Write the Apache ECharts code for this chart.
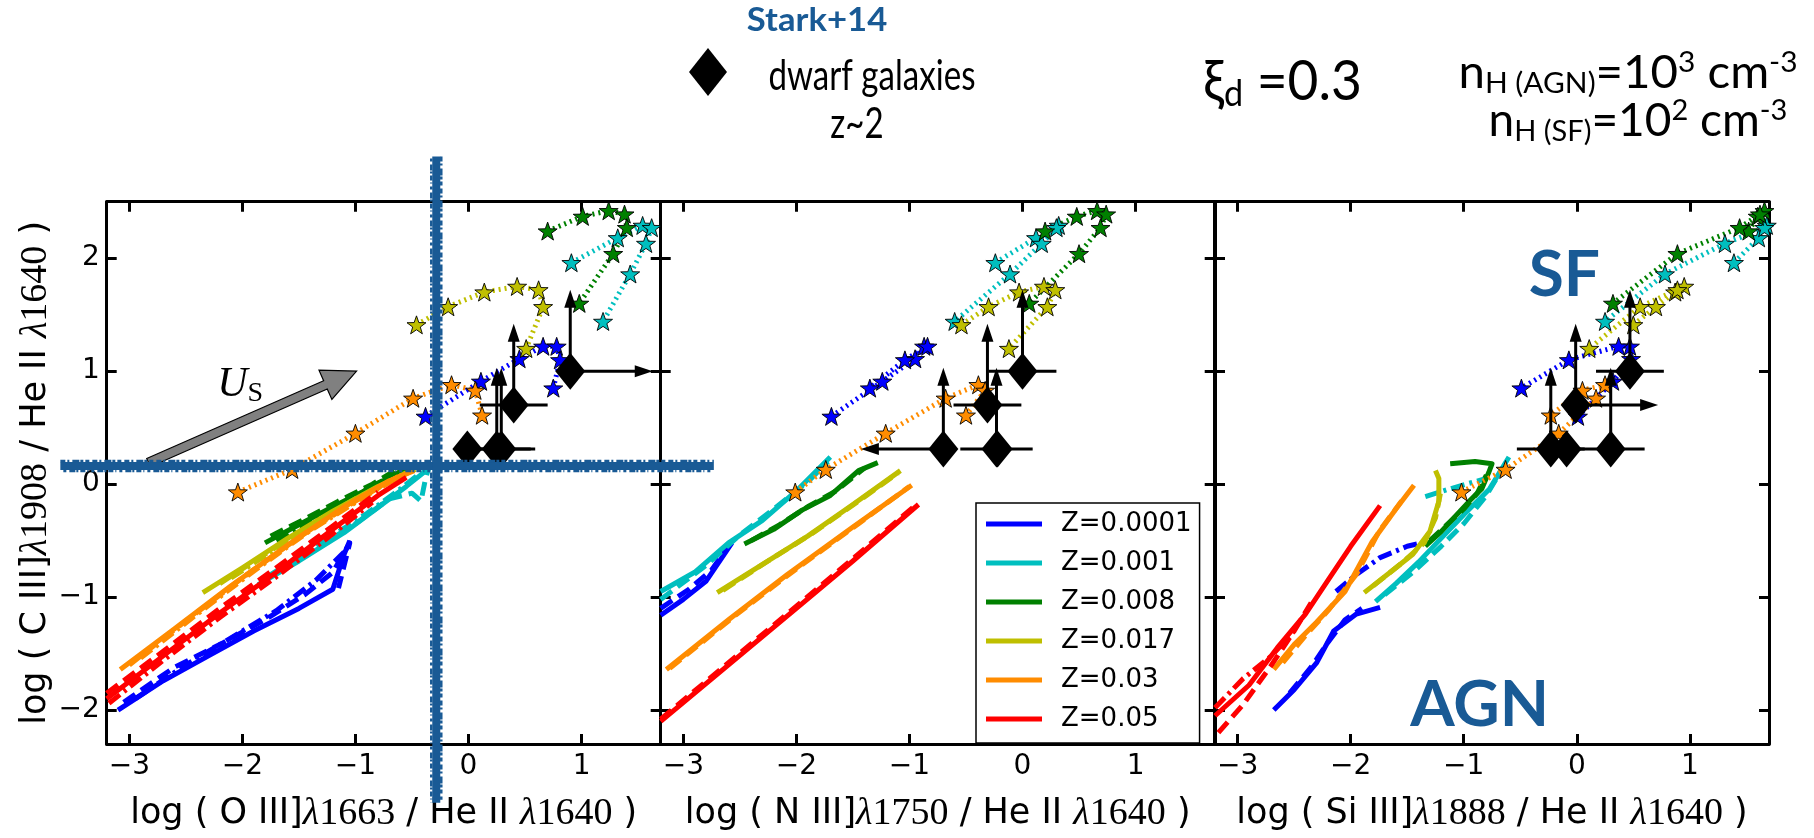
<!DOCTYPE html>
<html>
<head>
<meta charset="utf-8">
<script src="https://cdn.jsdelivr.net/npm/echarts@6/dist/echarts.min.js"></script>
<style>
  html, body { margin: 0; padding: 0; background: #ffffff; }
  #chart { width: 1814px; height: 838px; }
</style>
</head>
<body>
<div id="chart"></div>
<script>
// ---------------------------------------------------------------------------
// Data
// ---------------------------------------------------------------------------
const zLabels = ['Z=0.0001', 'Z=0.001', 'Z=0.008', 'Z=0.017', 'Z=0.03', 'Z=0.05'];
const zColors = ['#0000ff', '#00bfbf', '#008000', '#bfbf00', '#ff8c00', '#ff0000'];

const xTicks = [-3, -2, -1, 0, 1];
const yTicks = [-2, -1, 0, 1, 2];
const xRange = [-3.2, 1.7];
const yRange = [-2.3, 2.5];

// numerator ion and wavelength of each panel's x ratio
const panelIons = ['O III]', 'N III]', 'Si III]'];
const panelWaves = ['1663', '1750', '1888'];

// Star-forming grid, log C III]/He II (shared by all panels), one row per metallicity
const sfY = [
  [0.60, 0.91, 1.11, 1.22, 1.22, 1.10, 0.85],
  [1.96, 2.18, 2.29, 2.27, 2.13, 1.86, 1.44],
  [2.24, 2.37, 2.42, 2.39, 2.27, 2.04, 1.60],
  [1.41, 1.57, 1.70, 1.75, 1.72, 1.57, 1.20],
  [-0.07, 0.13, 0.45, 0.76, 0.88, 0.83, 0.61]
];
// Star-forming grid x values: O III]/He II
const sfO3X = [
  [-0.38, 0.11, 0.45, 0.66, 0.78, 0.81, 0.75],
  [0.91, 1.32, 1.54, 1.62, 1.57, 1.43, 1.19],
  [0.70, 1.01, 1.24, 1.38, 1.40, 1.28, 0.98],
  [-0.46, -0.18, 0.14, 0.43, 0.62, 0.66, 0.51],
  [-2.04, -1.56, -1.00, -0.49, -0.15, 0.06, 0.12]
];
// Star-forming grid x values: N III]/He II
const sfN3X = [
  [-1.69, -1.24, -0.95, -0.87, -0.84, -1.04, -1.35],
  [-0.24, 0.12, 0.32, 0.30, 0.17, -0.11, -0.60],
  [0.20, 0.48, 0.66, 0.74, 0.69, 0.50, 0.06],
  [-0.54, -0.30, -0.03, 0.19, 0.29, 0.22, -0.12],
  [-2.01, -1.74, -1.21, -0.68, -0.39, -0.33, -0.50]
];
// Star-forming grid x values: Si III]/He II
const sfSi3X = [
  [0.01, 0.32, 0.48, 0.47, 0.37, -0.07, -0.49],
  [1.39, 1.61, 1.68, 1.66, 1.31, 0.78, 0.25],
  [1.52, 1.60, 1.66, 1.62, 1.44, 0.89, 0.32],
  [0.50, 0.70, 0.87, 0.95, 0.89, 0.56, 0.11],
  [-1.02, -0.63, -0.16, 0.17, 0.25, 0.05, -0.23]
];

// AGN narrow-line models, per metallicity: [solid, dashed, dash-dot] tracks of [x, y]
const agnO3 = [
  [[[-3.10, -2.00], [-2.70, -1.74], [-2.30, -1.52], [-1.90, -1.30], [-1.50, -1.10], [-1.20, -0.93], [-1.10, -0.62], [-1.05, -0.50]],
   [[-3.05, -1.93], [-2.60, -1.62], [-2.20, -1.42], [-1.80, -1.20], [-1.45, -0.98], [-1.20, -0.78], [-1.05, -0.52], [-1.15, -0.92]],
   [[-2.95, -1.90], [-2.50, -1.60], [-2.10, -1.36], [-1.70, -1.12], [-1.35, -0.85], [-1.10, -0.60]]],
  [[[-1.86, -0.89], [-1.50, -0.68], [-1.10, -0.43], [-0.75, -0.17], [-0.55, -0.02], [-0.40, 0.10], [-0.35, 0.20]],
   [[-1.80, -0.84], [-1.40, -0.60], [-1.00, -0.35], [-0.70, -0.13], [-0.50, -0.08], [-0.42, -0.15], [-0.38, 0.05], [-0.34, 0.18]],
   [[-1.75, -0.80], [-1.30, -0.52], [-0.90, -0.26], [-0.60, -0.04], [-0.45, 0.08]]],
  [[[-1.80, -0.52], [-1.50, -0.36], [-1.20, -0.20], [-0.90, -0.05], [-0.55, 0.14]],
   [[-1.75, -0.46], [-1.45, -0.31], [-1.15, -0.15], [-0.85, 0.00], [-0.60, 0.15]],
   [[-1.70, -0.50], [-1.40, -0.33], [-1.10, -0.16], [-0.80, 0.01], [-0.58, 0.12]]],
  [[[-2.35, -0.96], [-2.00, -0.74], [-1.60, -0.48], [-1.20, -0.24], [-0.80, -0.02], [-0.47, 0.13]],
   [[-2.20, -0.88], [-1.80, -0.62], [-1.40, -0.37], [-1.00, -0.13], [-0.55, 0.10]],
   [[-2.10, -0.83], [-1.70, -0.57], [-1.30, -0.32], [-0.90, -0.08], [-0.50, 0.12]]],
  [[[-3.08, -1.64], [-2.60, -1.28], [-2.10, -0.90], [-1.60, -0.54], [-1.10, -0.20], [-0.70, 0.03], [-0.48, 0.12]],
   [[-3.00, -1.60], [-2.50, -1.21], [-2.00, -0.83], [-1.50, -0.47], [-1.00, -0.15], [-0.60, 0.08]],
   [[-2.90, -1.54], [-2.40, -1.15], [-1.90, -0.77], [-1.40, -0.41], [-0.90, -0.10], [-0.55, 0.10]]],
  [[[-3.20, -1.90], [-2.70, -1.52], [-2.20, -1.14], [-1.70, -0.78], [-1.20, -0.40], [-0.80, -0.10], [-0.55, 0.06]],
   [[-3.20, -1.85], [-2.70, -1.48], [-2.20, -1.10], [-1.70, -0.74], [-1.20, -0.37], [-0.80, -0.07]],
   [[-3.18, -1.94], [-2.70, -1.56], [-2.20, -1.18], [-1.70, -0.82], [-1.20, -0.44], [-0.85, -0.16]]]
];
const agnN3 = [
  [[[-3.20, -1.16], [-3.00, -1.02], [-2.80, -0.86], [-2.57, -0.52]],
   [[-3.20, -1.10], [-2.95, -0.93], [-2.75, -0.76], [-2.60, -0.55]]],
  [[[-3.20, -0.95], [-2.90, -0.78], [-2.60, -0.52], [-2.30, -0.32], [-2.00, -0.06], [-1.70, 0.24]],
   [[-3.20, -1.02], [-2.80, -0.72], [-2.50, -0.45], [-2.20, -0.22], [-1.90, 0.02], [-1.72, 0.20]]],
  [[[-2.46, -0.53], [-2.20, -0.40], [-1.95, -0.23], [-1.70, -0.10], [-1.45, 0.12], [-1.28, 0.19]],
   [[-2.40, -0.50], [-2.15, -0.36], [-1.90, -0.20], [-1.65, -0.06], [-1.40, 0.14]]],
  [[[-2.70, -0.96], [-2.30, -0.71], [-1.90, -0.46], [-1.50, -0.18], [-1.08, 0.12]],
   [[-2.65, -0.94], [-2.25, -0.68], [-1.85, -0.43], [-1.45, -0.15], [-1.10, 0.10]]],
  [[[-3.15, -1.64], [-2.60, -1.20], [-2.08, -0.80], [-1.50, -0.38], [-0.98, -0.01]],
   [[-3.12, -1.63], [-2.55, -1.17], [-2.00, -0.75], [-1.45, -0.35], [-1.00, -0.02]]],
  [[[-3.20, -2.10], [-2.60, -1.60], [-2.00, -1.10], [-1.50, -0.68], [-0.92, -0.18]],
   [[-3.20, -2.08], [-2.60, -1.58], [-2.00, -1.08], [-1.50, -0.66], [-0.95, -0.19]]]
];
const agnSi3 = [
  [[[-2.68, -2.00], [-2.50, -1.82], [-2.30, -1.58], [-2.15, -1.30], [-1.95, -1.15], [-1.74, -1.09]],
   [[-2.54, -1.85], [-2.35, -1.62], [-2.20, -1.40], [-2.05, -1.20], [-1.90, -1.10]],
   [[-2.13, -0.95], [-1.95, -0.80], [-1.74, -0.65], [-1.50, -0.55], [-1.33, -0.51]]],
  [[[-1.78, -1.04], [-1.60, -0.88], [-1.40, -0.69], [-1.20, -0.48], [-1.00, -0.27], [-0.77, -0.04], [-0.60, 0.24]],
   [[-1.70, -0.98], [-1.45, -0.78], [-1.20, -0.55], [-1.00, -0.35], [-0.80, -0.10], [-0.68, 0.10]],
   [[-1.34, -0.11], [-1.15, -0.05], [-0.98, 0.00], [-0.80, 0.05]]],
  [[[-1.34, -0.55], [-1.20, -0.42], [-1.08, -0.29], [-0.95, -0.15], [-0.84, -0.04], [-0.78, 0.10], [-0.75, 0.18], [-0.90, 0.20], [-1.12, 0.18]],
   [[-1.30, -0.50], [-1.15, -0.36], [-1.00, -0.22], [-0.88, -0.08], [-0.80, 0.08]]],
  [[[-1.88, -0.96], [-1.65, -0.78], [-1.45, -0.62], [-1.30, -0.42], [-1.22, -0.15], [-1.22, 0.05], [-1.25, 0.12]],
   [[-1.80, -0.90], [-1.55, -0.70], [-1.35, -0.52], [-1.25, -0.30], [-1.20, -0.05]]],
  [[[-2.68, -1.64], [-2.50, -1.42], [-2.30, -1.22], [-2.05, -0.95], [-1.81, -0.51], [-1.60, -0.22], [-1.44, -0.01]],
   [[-2.60, -1.58], [-2.40, -1.34], [-2.20, -1.12], [-1.95, -0.80], [-1.75, -0.42], [-1.55, -0.15]]],
  [[[-3.20, -2.05], [-2.90, -1.78], [-2.65, -1.45], [-2.40, -1.15], [-2.20, -0.85], [-2.00, -0.55], [-1.74, -0.19]],
   [[-3.17, -2.20], [-2.95, -1.95], [-2.70, -1.60], [-2.50, -1.30], [-2.35, -1.05]],
   [[-3.20, -1.98], [-2.95, -1.72], [-2.70, -1.52], [-2.50, -1.30]]]
];

// Stark+14 dwarf galaxies at z~2: log C III]/He II and lower-limit flag
const galY = [1.00, 0.70, 0.31, 0.31, 0.31];
const galYLower = [1, 1, 0, 1, 1];
// per panel: x value, symmetric x error, x limit (+1 lower limit, -1 upper limit)
const galO3X = [0.90, 0.40, -0.01, 0.25, 0.29];
const galO3Err = [0, 0.30, 0, 0.30, 0.30];
const galO3Lim = [1, 0, 0, 0, 0];
const galN3X = [0.00, -0.31, -0.22, -0.70, -0.23];
const galN3Err = [0.30, 0.30, 0, 0, 0.32];
const galN3Lim = [0, 0, 0, -1, 0];
const galSi3X = [0.47, -0.01, -0.09, -0.23, 0.30];
const galSi3Err = [0.30, 0, 0, 0.30, 0.30];
const galSi3Lim = [0, 1, 0, 0, 0];

// Annotations in panel 1: ionization-parameter arrow and the dividing cross
const usArrow = [-2.83, 0.19, -0.99, 1.00];
const usLabel = [-2.02, 0.88];
const crossAt = [-0.285, 0.16];
const crossSpanX = [-3.61, 2.17];
const crossSpanY = [-2.82, 2.90];
// Region labels in panel 3
const regionLabels = [[-0.11, 1.85, 'SF'], [-0.86, -1.96, 'AGN']];

// ---------------------------------------------------------------------------
// Layout and styles
// ---------------------------------------------------------------------------
const gridLeft = [106.7, 660.7, 1215];
const GRID_TOP = 201.7;
const GRID_SIZE = 554;
const ARROW_LEN_Y = 0.64;
const ARROW_LEN_X = 0.65;
const agnDash = ['solid', [14, 7], [14, 5, 3, 5]];
const NAVY = '#195a95';
const STAR_PATH = 'path://M0,-10L2.35,-3.24L9.51,-3.09L3.8,1.24L5.88,8.09L0,4L-5.88,8.09L-3.8,1.24L-9.51,-3.09L-2.35,-3.24Z';

const sfX = [sfO3X, sfN3X, sfSi3X];
const agn = [agnO3, agnN3, agnSi3];
const galX = [galO3X, galN3X, galSi3X];
const galErr = [galO3Err, galN3Err, galSi3Err];
const galLim = [galO3Lim, galN3Lim, galSi3Lim];

const minus = v => (v < 0 ? '\u2212' + Math.abs(v) : String(v));

const axisRich = {
  t: { fontFamily: 'DejaVu Sans', fontSize: 35, color: '#000' },
  l: { fontFamily: 'Liberation Serif', fontStyle: 'italic', fontSize: 38, color: '#000' },
  n: { fontFamily: 'Liberation Serif', fontSize: 38, color: '#000' }
};
function ratioName(ion, wave) {
  return '{t|log ( ' + ion + '}{l|\u03bb}{n|' + wave + '}{t| / He II }{l|\u03bb}{n|1640}{t| )}';
}

const lineAxis = { show: true, onZero: false, lineStyle: { color: '#000', width: 3 } };
function tickStyle(values) {
  return { show: true, inside: true, length: 10, lineStyle: { color: '#000', width: 3 }, customValues: values };
}

const grids = [], xAxes = [], yAxes = [];
for (let p = 0; p < 3; p++) {
  grids.push({ left: gridLeft[p], top: GRID_TOP, width: GRID_SIZE, height: GRID_SIZE });
  xAxes.push({
    type: 'value', gridIndex: p, position: 'bottom', min: xRange[0], max: xRange[1],
    splitLine: { show: false }, axisLine: lineAxis, axisTick: tickStyle(xTicks),
    axisLabel: { show: true, customValues: xTicks, formatter: minus, margin: 9,
                 fontFamily: 'DejaVu Sans', fontSize: 28, color: '#000' },
    name: ratioName(panelIons[p], panelWaves[p]), nameLocation: 'middle', nameGap: 51,
    nameTextStyle: { rich: axisRich, lineHeight: 38 }
  });
  yAxes.push({
    type: 'value', gridIndex: p, position: 'left', min: yRange[0], max: yRange[1],
    splitLine: { show: false }, axisLine: lineAxis, axisTick: tickStyle(yTicks),
    axisLabel: { show: p === 0, customValues: yTicks, formatter: minus, margin: 7,
                 fontFamily: 'DejaVu Sans', fontSize: 28, color: '#000' },
    name: p === 0 ? ratioName('C III]', '1908') : '',
    nameLocation: 'middle', nameRotate: 90, nameGap: 51,
    nameTextStyle: { rich: axisRich, lineHeight: 38 }
  });
}
for (let p = 0; p < 3; p++) {
  xAxes.push({
    type: 'value', gridIndex: p, position: 'top', min: xRange[0], max: xRange[1],
    splitLine: { show: false }, axisLine: lineAxis, axisTick: tickStyle(xTicks),
    axisLabel: { show: false, customValues: xTicks }
  });
  yAxes.push({
    type: 'value', gridIndex: p, position: 'right', min: yRange[0], max: yRange[1],
    splitLine: { show: false }, axisLine: lineAxis, axisTick: tickStyle(yTicks),
    axisLabel: { show: false, customValues: yTicks }
  });
}

// ---------------------------------------------------------------------------
// Series
// ---------------------------------------------------------------------------
const series = [];

// AGN model tracks
for (let p = 0; p < 3; p++) {
  agn[p].forEach((tracks, z) => {
    tracks.forEach((pts, k) => {
      series.push({
        type: 'line', name: zLabels[z], xAxisIndex: p, yAxisIndex: p, data: pts,
        showSymbol: false, symbol: 'none', silent: true, z: 2, clip: true,
        color: zColors[z],
        lineStyle: { color: zColors[z], width: 5, type: agnDash[k], cap: 'butt', join: 'round' }
      });
    });
  });
}

// Star-forming model grids: dotted tracks with star markers
for (let p = 0; p < 3; p++) {
  sfY.forEach((ys, z) => {
    series.push({
      type: 'line', name: zLabels[z], xAxisIndex: p, yAxisIndex: p,
      data: ys.map((y, i) => [sfX[p][z][i], y]),
      showSymbol: true, symbol: STAR_PATH, symbolSize: [19, 18], silent: true, z: 3, clip: false,
      color: zColors[z],
      itemStyle: { color: zColors[z], borderColor: '#000', borderWidth: 0.9, opacity: 1 },
      lineStyle: { color: zColors[z], width: 5, type: [2, 4], cap: 'butt' }
    });
  });
}

// Dwarf galaxies: error bars and limit arrows, then diamonds
function galaxyBars(params, api) {
  const x = api.value(0), y = api.value(1), err = api.value(2), lim = api.value(3), up = api.value(4);
  const stroke = { stroke: '#000', lineWidth: 3 };
  const kids = [];
  const seg = (a, b) => kids.push({ type: 'line', shape: { x1: a[0], y1: a[1], x2: b[0], y2: b[1] }, style: stroke });
  const c = api.coord([x, y]);
  if (err > 0) seg(api.coord([x - err, y]), api.coord([x + err, y]));
  if (lim !== 0) {
    const e = api.coord([x + lim * ARROW_LEN_X, y]);
    seg(c, e);
    const d = lim > 0 ? 1 : -1;
    kids.push({ type: 'polygon', shape: { points: [[e[0] + d * 9, e[1]], [e[0] - d * 9, e[1] - 6], [e[0] - d * 9, e[1] + 6]] },
                style: { fill: '#000' } });
  }
  if (up) {
    const e = api.coord([x, y + ARROW_LEN_Y]);
    seg(c, e);
    kids.push({ type: 'polygon', shape: { points: [[e[0], e[1] - 9], [e[0] - 6, e[1] + 9], [e[0] + 6, e[1] + 9]] },
                style: { fill: '#000' } });
  }
  return { type: 'group', children: kids };
}
for (let p = 0; p < 3; p++) {
  const rows = galY.map((y, i) => [galX[p][i], y, galErr[p][i], galLim[p][i], galYLower[i]]);
  series.push({
    type: 'custom', name: 'limits', xAxisIndex: p, yAxisIndex: p, data: rows,
    renderItem: galaxyBars, silent: true, z: 5, clip: false
  });
  series.push({
    type: 'scatter', name: 'dwarf galaxies', xAxisIndex: p, yAxisIndex: p,
    data: rows.map(r => [r[0], r[1]]), symbol: 'diamond', symbolSize: [30, 37],
    itemStyle: { color: '#000', opacity: 1 }, silent: true, z: 6
  });
}

// Ionization-parameter arrow in panel 1
series.push({
  type: 'custom', name: 'U_S', xAxisIndex: 0, yAxisIndex: 0, data: [usArrow.concat(usLabel)],
  silent: true, z: 5, clip: false,
  renderItem: (params, api) => {
    const p0 = api.coord([api.value(0), api.value(1)]);
    const p1 = api.coord([api.value(2), api.value(3)]);
    const dx = p1[0] - p0[0], dy = p1[1] - p0[1], L = Math.hypot(dx, dy);
    const ux = dx / L, uy = dy / L, nx = -uy, ny = ux;
    const hw = 4.5, HW = 16, HL = 34;
    const hx = p1[0] - ux * HL, hy = p1[1] - uy * HL;
    const pts = [
      [p0[0] + nx * hw, p0[1] + ny * hw], [hx + nx * hw, hy + ny * hw], [hx + nx * HW, hy + ny * HW],
      p1, [hx - nx * HW, hy - ny * HW], [hx - nx * hw, hy - ny * hw], [p0[0] - nx * hw, p0[1] - ny * hw]
    ];
    const t = api.coord([api.value(4), api.value(5)]);
    return { type: 'group', children: [
      { type: 'polygon', shape: { points: pts }, style: { fill: '#808080', stroke: '#000', lineWidth: 1.2 } },
      { type: 'text', x: t[0], y: t[1], style: {
          text: '{u|U}{s|S}', align: 'center', verticalAlign: 'middle',
          rich: { u: { fontFamily: 'Liberation Serif', fontStyle: 'italic', fontSize: 42, lineHeight: 46, fill: '#000' },
                  s: { fontFamily: 'Liberation Serif', fontSize: 28, lineHeight: 26, verticalAlign: 'bottom', fill: '#000' } } } }
    ] };
  }
});

// Dividing cross drawn over panel 1, with hand-drawn ragged edges
series.push({
  type: 'custom', name: 'cross', xAxisIndex: 0, yAxisIndex: 0, data: [crossAt.concat(crossSpanX, crossSpanY)],
  silent: true, z: 8, clip: false,
  renderItem: (params, api) => {
    const c = api.coord([api.value(0), api.value(1)]);
    const l = api.coord([api.value(2), api.value(1)]), r = api.coord([api.value(3), api.value(1)]);
    const t = api.coord([api.value(0), api.value(5)]), b = api.coord([api.value(0), api.value(4)]);
    const th = 8;
    const edge = (x1, y1, x2, y2, dash) => ({ type: 'line', shape: { x1, y1, x2, y2 },
      style: { stroke: NAVY, lineWidth: 2.5, lineDash: dash } });
    const dashA = [5, 2, 2, 3, 7, 1, 3, 2, 4, 3];
    const dashB = [3, 3, 6, 1, 2, 2, 5, 2, 1, 3];
    return { type: 'group', children: [
      { type: 'rect', shape: { x: l[0], y: c[1] - th / 2, width: r[0] - l[0], height: th }, style: { fill: NAVY } },
      edge(l[0], c[1] - th / 2 - 1, r[0], c[1] - th / 2 - 1, dashA),
      edge(l[0] + 3, c[1] + th / 2 + 1, r[0] - 2, c[1] + th / 2 + 1, dashB),
      { type: 'rect', shape: { x: c[0] - th / 2, y: t[1], width: th, height: b[1] - t[1] }, style: { fill: NAVY } },
      edge(c[0] - th / 2 - 1, t[1] + 2, c[0] - th / 2 - 1, b[1], dashB),
      edge(c[0] + th / 2 + 1, t[1], c[0] + th / 2 + 1, b[1] - 3, dashA)
    ] };
  }
});

// SF / AGN region labels in panel 3
series.push({
  type: 'custom', name: 'regions', xAxisIndex: 2, yAxisIndex: 2, data: regionLabels,
  silent: true, z: 7, clip: false,
  renderItem: (params, api) => {
    const c = api.coord([api.value(0), api.value(1)]);
    return { type: 'text', x: c[0], y: c[1], style: {
      text: regionLabels[params.dataIndex][2], align: 'center', verticalAlign: 'middle',
      fontFamily: 'Lato', fontWeight: 'bold', fontSize: 64, fill: NAVY } };
  }
});

// ---------------------------------------------------------------------------
// Header annotations
// ---------------------------------------------------------------------------
const headFont = 'Lato';
const nRich = {
  m: { fontFamily: headFont, fontSize: 46, lineHeight: 50, fill: '#000' },
  s: { fontFamily: headFont, fontSize: 29, lineHeight: 30, verticalAlign: 'bottom', fill: '#000' },
  p: { fontFamily: headFont, fontSize: 29, lineHeight: 30, verticalAlign: 'top', fill: '#000' }
};
const graphic = [
  { type: 'text', x: 817, y: 20, scaleX: 1.05, style: { text: 'Stark+14', align: 'center', verticalAlign: 'middle',
      fontFamily: 'Lato', fontWeight: 'bold', fontSize: 33, fill: NAVY } },
  { type: 'polygon', shape: { points: [[708, 48], [727, 72], [708, 96], [689, 72]] }, style: { fill: '#000' } },
  { type: 'text', x: 872, y: 76, scaleX: 0.77, style: { text: 'dwarf galaxies', align: 'center', verticalAlign: 'middle',
      fontFamily: headFont, fontSize: 43, fill: '#000' } },
  { type: 'text', x: 857, y: 124, scaleX: 0.77, style: { text: 'z~2', align: 'center', verticalAlign: 'middle',
      fontFamily: headFont, fontSize: 43, fill: '#000' } },
  { type: 'text', x: 1203, y: 82, scaleX: 0.95, style: { text: '{m|\u03be}{s|d}{m| =0.3}', align: 'left', verticalAlign: 'middle',
      rich: { m: { fontFamily: headFont, fontSize: 56, lineHeight: 60, fill: '#000' },
              s: { fontFamily: headFont, fontSize: 36, lineHeight: 36, verticalAlign: 'bottom', fill: '#000' } } } },
  { type: 'text', x: 1628, y: 73, scaleX: 1.03, style: {
      text: '{m|n}{s|H (AGN)}{m|=10}{p|3}{m| cm}{p|-3}', align: 'center', verticalAlign: 'middle', rich: nRich } },
  { type: 'text', x: 1638, y: 121, scaleX: 1.0, style: {
      text: '{m|n}{s|H (SF)}{m|=10}{p|2}{m| cm}{p|-3}', align: 'center', verticalAlign: 'middle', rich: nRich } }
];

const chart = echarts.init(document.getElementById('chart'), null, { renderer: 'canvas' });
chart.setOption({
  animation: false,
  backgroundColor: '#ffffff',
  grid: grids,
  xAxis: xAxes,
  yAxis: yAxes,
  legend: {
    show: true, orient: 'vertical', left: 976, top: 503, z: 10, selectedMode: false,
    data: zLabels.map(n => ({ name: n, icon: 'rect' })),
    itemWidth: 56, itemHeight: 5, itemGap: 9, padding: [6, 8, 9, 10],
    borderColor: '#000', borderWidth: 1.5, backgroundColor: '#ffffff',
    textStyle: { fontFamily: 'DejaVu Sans', fontSize: 26, color: '#000', lineHeight: 30, padding: [0, 0, 0, 14] }
  },
  series: series,
  graphic: graphic
});
</script>
</body>
</html>
